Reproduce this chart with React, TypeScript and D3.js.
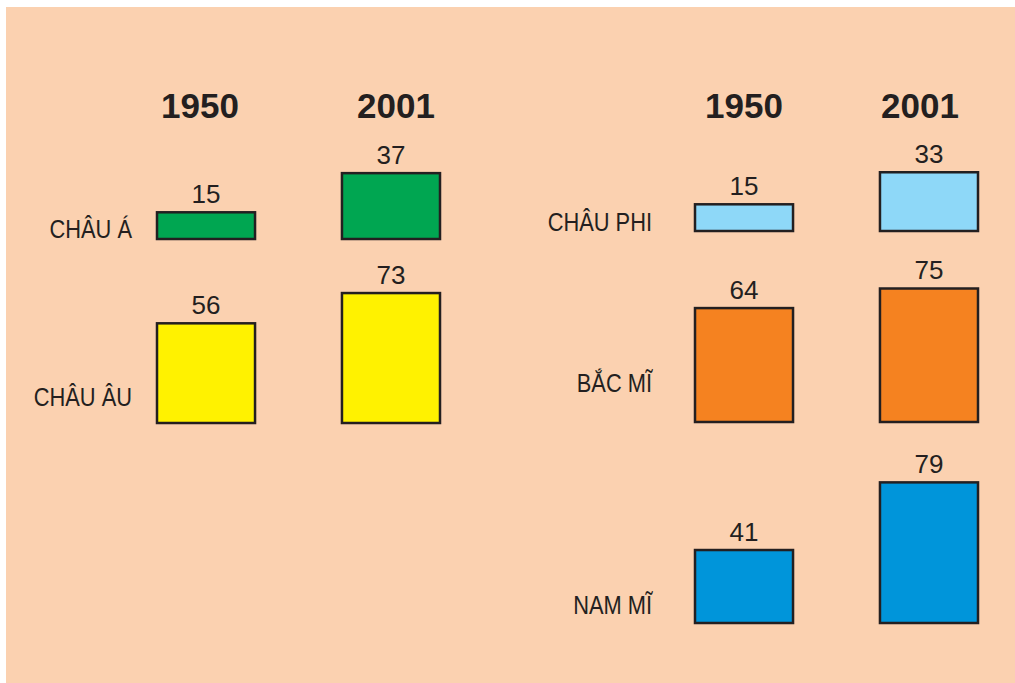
import React, { useEffect, useRef } from 'react'
import * as d3 from 'd3'

// urban population share (%) by region, 1950 vs 2001
const years = ['1950', '2001']
const regions = ['CHÂU Á', 'CHÂU ÂU', 'CHÂU PHI', 'BẮC MĨ', 'NAM MĨ']
const panelOfRegion = [0, 0, 1, 1, 1]
const urban1950 = [15, 56, 15, 64, 41]
const urban2001 = [37, 73, 33, 75, 79]
const regionColors = ['#00a651', '#fff200', '#8ed8f8', '#f58220', '#0095da']

const W = 1015
const H = 683
const FONT = '"Liberation Sans", Arial, Helvetica, sans-serif'
const INK = '#231f20'

// layout (px)
const panels = [
  { barRange: [157, 440], headRange: [200, 396], labelEnd: 132 },
  { barRange: [695, 978], headRange: [744, 920], labelEnd: 652 },
]
const rowBase = [239, 423, 231, 422, 623]
const rowLabelY = [238, 406, 231, 392, 614]

export default function App() {
  const ref = useRef<SVGSVGElement>(null)

  useEffect(() => {
    const svg = d3.select(ref.current)
    svg.selectAll('*').remove()

    svg.append('rect')
      .attr('x', 6)
      .attr('y', 7)
      .attr('width', W - 6)
      .attr('height', H - 7)
      .attr('fill', '#fbd1b0')

    const h = d3.scaleLinear().domain([0, 100]).range([0, 178])

    const data: any[] = []
    regions.forEach((r, i) => {
      years.forEach((y, j) => {
        data.push({ region: r, idx: i, year: y, value: j === 0 ? urban1950[i] : urban2001[i] })
      })
    })

    panels.forEach((p, pi) => {
      const x = d3.scaleBand().domain(years).range(p.barRange as [number, number]).paddingInner(0.47)
      const hx = d3.scalePoint().domain(years).range(p.headRange as [number, number])
      const g = svg.append('g')

      // year headers
      g.selectAll('text.year')
        .data(years)
        .enter()
        .append('text')
        .attr('class', 'year')
        .attr('x', (d) => hx(d) as number)
        .attr('y', 118)
        .attr('text-anchor', 'middle')
        .attr('font-family', FONT)
        .attr('font-weight', 'bold')
        .attr('font-size', 35)
        .attr('fill', INK)
        .text((d) => d)

      const rows = data.filter((d) => panelOfRegion[d.idx] === pi)

      g.selectAll('rect.bar')
        .data(rows)
        .enter()
        .append('rect')
        .attr('class', 'bar')
        .attr('x', (d) => x(d.year) as number)
        .attr('y', (d) => rowBase[d.idx] - h(d.value))
        .attr('width', x.bandwidth())
        .attr('height', (d) => h(d.value))
        .attr('fill', (d) => regionColors[d.idx])
        .attr('stroke', INK)
        .attr('stroke-width', 2.5)

      g.selectAll('text.value')
        .data(rows)
        .enter()
        .append('text')
        .attr('class', 'value')
        .attr('x', (d) => (x(d.year) as number) + x.bandwidth() / 2)
        .attr('y', (d) => rowBase[d.idx] - h(d.value) - 9.5)
        .attr('text-anchor', 'middle')
        .attr('font-family', FONT)
        .attr('font-size', 26)
        .attr('fill', INK)
        .text((d) => d.value)

      // region names, a bit condensed like the print font
      const names = regions.map((r, i) => ({ r, i })).filter((d) => panelOfRegion[d.i] === pi)
      g.selectAll('text.region')
        .data(names)
        .enter()
        .append('text')
        .attr('class', 'region')
        .attr('transform', (d) => `translate(${p.labelEnd},${rowLabelY[d.i]}) scale(0.84,1)`)
        .attr('text-anchor', 'end')
        .attr('font-family', FONT)
        .attr('font-size', 26)
        .attr('fill', INK)
        .text((d) => d.r)
    })
  }, [])

  return (
    <svg
      ref={ref}
      width={W}
      height={H}
      style={{ position: 'absolute', left: 0, top: 0, display: 'block' }}
    />
  )
}
